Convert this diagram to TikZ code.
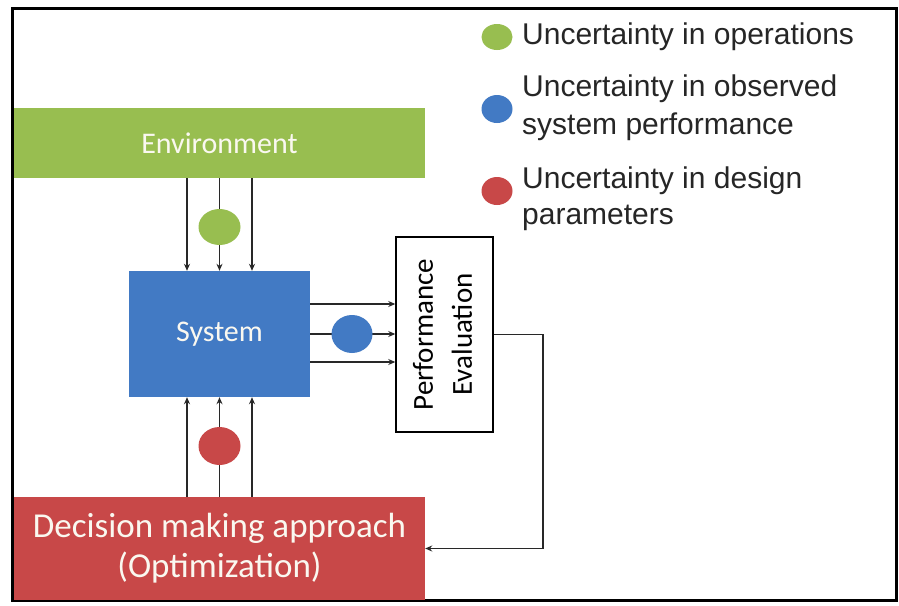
\documentclass[tikz,border=0pt]{standalone}
\usepackage{fontspec}
\setmainfont{Carlito}
\newfontfamily\legendfont{Liberation Sans}
\usetikzlibrary{arrows.meta,shapes.geometric}
\definecolor{envgreen}{RGB}{152,190,80}
\definecolor{sysblue}{RGB}{66,122,196}
\definecolor{decred}{RGB}{200,72,72}
\definecolor{arrgray}{RGB}{40,40,40}
\definecolor{txtwhite}{RGB}{250,248,240}
\tikzset{
  box/.style={rectangle, inner sep=0pt, anchor=center, text=txtwhite},
  arr/.style={draw=arrgray, line width=1.3pt, -{Stealth[length=7pt,width=6pt]}},
  blob/.style={ellipse, inner sep=0pt, draw=none},
  legtxt/.style={anchor=base west, inner sep=0pt, font=\legendfont\fontsize{30}{36}\selectfont, text=black!85},
}
\begin{document}
\begin{tikzpicture}[x=1pt,y=-1pt]
\useasboundingbox (0,0) rectangle (899,605);
\fill[white] (0,0) rectangle (899,605);
\draw[line width=3pt] (12,8) rectangle (896,600);

% boxes
\node[box, fill=envgreen, minimum width=411pt, minimum height=70pt,
      font=\fontsize{30}{36}\selectfont] (env) at (219.5,143) {Environment};
\node[box, fill=sysblue, minimum width=181pt, minimum height=126pt,
      font=\fontsize{30}{36}\selectfont] (sys) at (219.5,334) {System};
\node[box, fill=decred, minimum width=411pt, minimum height=103pt, align=center,
      font=\fontsize{35}{40}\selectfont] (dec) at (219.5,548.5) {Decision making approach\\(Optimization)};
\node[rectangle, draw=black, line width=1.5pt, fill=white, inner sep=0pt,
      minimum width=97pt, minimum height=195pt] (perf) at (444.5,334.5)
      {\rotatebox{90}{\fontsize{29}{39}\selectfont\begin{tabular}{@{}c@{}}Performance\\Evaluation\end{tabular}}};

% connectors
\foreach \dx in {-32.5,0,32.5}{
  \draw[arr] ([xshift=\dx pt]env.south) -- ([xshift=\dx pt]sys.north);
  \draw[arr] ([xshift=\dx pt]dec.north) -- ([xshift=\dx pt]sys.south);
}
\foreach \dy in {-30,0,28}{
  \draw[arr] ([yshift=-\dy pt]sys.east) -- ([yshift=-\dy pt]sys.east -| perf.west);
}
\coordinate (fb) at (543,334.5);
\draw[arr] (perf.east) -- (fb) |- (dec.east);

% uncertainty blobs
\node[blob, fill=envgreen, minimum width=42pt, minimum height=36pt] (gblob) at (219.5,227) {};
\node[blob, fill=sysblue, minimum width=41pt, minimum height=38pt] (bblob) at (352,334) {};
\node[blob, fill=decred, minimum width=42pt, minimum height=38pt] (rblob) at (219.5,446) {};

% legend
\node[blob, fill=envgreen, minimum width=31pt, minimum height=26pt] (lg) at (497,37) {};
\node[blob, fill=sysblue, minimum width=31pt, minimum height=28pt] (lb) at (497,109) {};
\node[blob, fill=decred, minimum width=31pt, minimum height=28pt] (lr) at (497,191) {};
\node[legtxt] (l1) at (522,44) {Uncertainty in operations};
\node[legtxt] (l2a) at (522,96) {Uncertainty in observed};
\node[legtxt] (l2b) at (522,134) {system performance};
\node[legtxt] (l3a) at (522,188) {Uncertainty in design};
\node[legtxt] (l3b) at (522,224) {parameters};
\end{tikzpicture}
\end{document}
